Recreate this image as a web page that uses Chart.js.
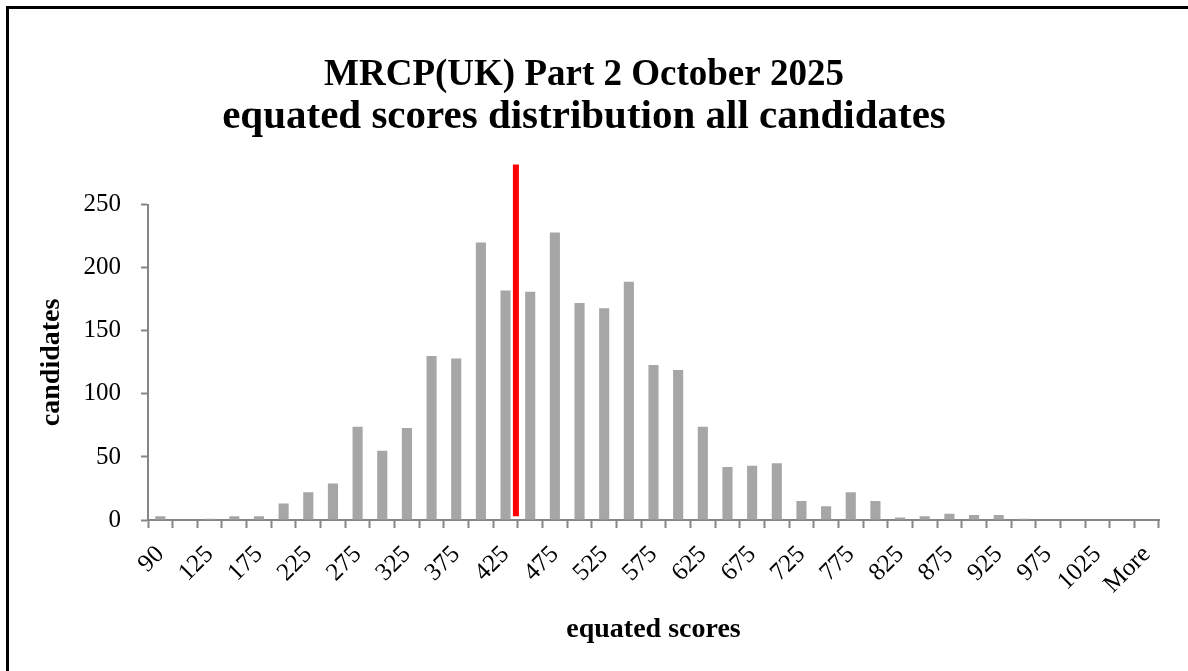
<!DOCTYPE html>
<html>
<head>
<meta charset="utf-8">
<script src="https://cdn.jsdelivr.net/npm/chart.js@4"></script>
<style>
  body { margin: 0; background: #fff; }
  #frame {
    position: absolute; left: 6px; top: 6px;
    width: 1179px; height: 662px;
    border-top: 3px solid #000; border-left: 3px solid #000;
  }
</style>
</head>
<body>
<div id="frame"><canvas id="graphique" width="1179" height="662"></canvas></div>
<script>
// histogram bins (upper edges) and counts
const scoreBins = ['90','100','125','150','175','200','225','250','275','300','325','350','375','400','425','450',
  '475','500','525','550','575','600','625','650','675','700','725','750','775','800','825','850','875','900',
  '925','950','975','1000','1025','1050','More'];
const candidates = [3,0,1,3,3,13,22,29,74,55,73,130,128,220,182,181,228,172,168,189,
  123,119,74,42,43,45,15,11,22,15,2,3,5,4,4,1,0,0,0,0,0];
const yTicks = [0, 50, 100, 150, 200, 250];
// pass mark line, position in bin units between 425 and 450
const passMarkPos = 14.42;
const passLineY = [3, 282];

const grey = '#868686';
const serif = "'Liberation Serif', serif";

const ctx = document.getElementById('graphique');
new Chart(ctx, {
  type: 'bar',
  data: {
    labels: scoreBins,
    datasets: [{
      label: 'candidates',
      data: candidates,
      backgroundColor: '#a6a6a6',
      grouped: false,
      categoryPercentage: 1,
      barPercentage: 0.41
    }, {
      type: 'line',
      label: 'pass mark',
      xAxisID: 'xLine',
      data: passLineY.map(v => ({ x: passMarkPos, y: v })),
      borderColor: '#ff0000',
      borderWidth: 6,
      pointRadius: 0,
      clip: false
    }]
  },
  options: {
    responsive: false,
    animation: false,
    layout: { padding: { left: 0, right: 29, top: 0, bottom: 0 } },
    plugins: {
      legend: { display: false },
      tooltip: { enabled: false },
      title: {
        display: true,
        text: 'MRCP(UK) Part 2 October 2025',
        color: '#000',
        font: { family: serif, size: 37, weight: 'bold', lineHeight: 1.1 },
        padding: { top: 46, bottom: 0 }
      },
      subtitle: {
        display: true,
        text: 'equated scores distribution all candidates',
        color: '#000',
        font: { family: serif, size: 41, weight: 'bold', lineHeight: 1.05 },
        padding: { top: 0, bottom: 66 }
      }
    },
    scales: {
      x: {
        grid: { drawOnChartArea: false, tickLength: 8, tickColor: grey, tickWidth: 2 },
        border: { color: grey, width: 2 },
        ticks: {
          autoSkip: false, minRotation: 45, maxRotation: 45, padding: 12,
          color: '#000', font: { family: serif, size: 25 },
          callback: (v, i) => i % 2 === 0 ? scoreBins[i] : ''
        },
        title: {
          display: true, text: 'equated scores', color: '#000',
          font: { family: serif, size: 28, weight: 'bold', lineHeight: 1.2 },
          padding: { top: 0, bottom: 24 }
        },
        afterFit: s => { s.height = 151; }
      },
      xLine: {
        type: 'linear', display: false, offset: false,
        min: -0.5, max: scoreBins.length - 0.5
      },
      y: {
        min: 0, max: 250,
        afterBuildTicks: s => { s.ticks = yTicks.map(v => ({ value: v })); },
        grid: { drawOnChartArea: false, tickLength: 7, tickColor: grey, tickWidth: 2 },
        border: { color: grey, width: 2 },
        ticks: { padding: 20, color: '#000', font: { family: serif, size: 25 } },
        title: {
          display: true, text: 'candidates', color: '#000',
          font: { family: serif, size: 28, weight: 'bold', lineHeight: 1.2 },
          padding: { top: 26, bottom: 0 }
        },
        afterFit: s => { s.width = 139; }
      }
    }
  }
});
</script>
</body>
</html>
